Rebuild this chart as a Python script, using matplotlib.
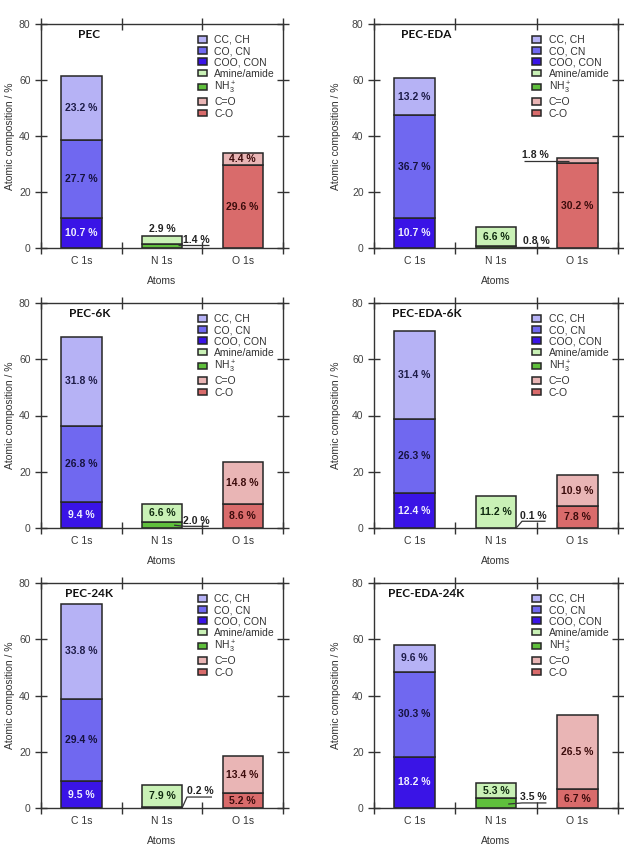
import matplotlib.pyplot as plt

# Data (bottom -> top segment in each bar)
atoms = ["C 1s", "N 1s", "O 1s"]
panels = ["PEC", "PEC-EDA", "PEC-6K", "PEC-EDA-6K", "PEC-24K", "PEC-EDA-24K"]

c_coo = [10.7, 10.7, 9.4, 12.4, 9.5, 18.2]
c_co = [27.7, 36.7, 26.8, 26.3, 29.4, 30.3]
c_cc = [23.2, 13.2, 31.8, 31.4, 33.8, 9.6]
n_nh3 = [1.4, 0.8, 2.0, 0.1, 0.2, 3.5]
n_amine = [2.9, 6.6, 6.6, 11.2, 7.9, 5.3]
o_c_o = [29.6, 30.2, 8.6, 7.8, 5.2, 6.7]
o_c_dbl = [4.4, 1.8, 14.8, 10.9, 13.4, 26.5]

# name, values, atom index, bar colour, text colour
series = [
    ("COO, CON", c_coo, 0, "#3a14e6", "#f0f0ff"),
    ("CO, CN", c_co, 0, "#7068f0", "#16123e"),
    ("CC, CH", c_cc, 0, "#b6b2f5", "#1e1c48"),
    ("NH$_3^+$", n_nh3, 1, "#5fbf3c", "#102a10"),
    ("Amine/amide", n_amine, 1, "#c9f1b6", "#102a10"),
    ("C-O", o_c_o, 2, "#d96b6b", "#3c0c0c"),
    ("C=O", o_c_dbl, 2, "#e9b5b5", "#3c0c0c"),
]
legend_order = ["CC, CH", "CO, CN", "COO, CON", "Amine/amide", "NH$_3^+$", "C=O", "C-O"]

# labels drawn outside the bar: series -> (text x, text bottom y, leader xs, leader ys)
callouts = {
    0: {"Amine/amide": (1.0, 4.9, None, None),
        "NH$_3^+$": (1.43, 1.2, [1.2, 1.58], [0.9, 0.9])},
    1: {"NH$_3^+$": (1.5, 0.7, [1.2, 1.65], [0.45, 0.45]),
        "C=O": (1.49, 31.3, [1.35, 1.9], [31.1, 31.1])},
    2: {"NH$_3^+$": (1.43, 0.8, [1.15, 1.28, 1.58], [1.0, 0.6, 0.6])},
    3: {"NH$_3^+$": (1.46, 2.5, [1.25, 1.32, 1.61], [0.05, 2.4, 2.4])},
    4: {"NH$_3^+$": (1.47, 4.1, [1.25, 1.31, 1.62], [0.1, 3.9, 3.9])},
    5: {"NH$_3^+$": (1.46, 2.0, [1.15, 1.32, 1.62], [1.4, 1.8, 1.8])},
}

plt.rcParams["font.family"] = ["Liberation Sans", "DejaVu Sans"]
plt.rcParams["mathtext.fontset"] = "custom"
plt.rcParams["mathtext.rm"] = "Liberation Sans"
plt.rcParams["mathtext.it"] = "Liberation Sans"

fig = plt.figure(figsize=(6.24, 8.56), dpi=100)

lefts = [41 / 624, 374 / 624]
widths = [242 / 624, 244 / 624]
tops = [24, 303, 583]
bottoms = [248, 528, 808]

for p, name in enumerate(panels):
    row, col = divmod(p, 2)
    ax = fig.add_axes([lefts[col], 1 - bottoms[row] / 856, widths[col],
                       (bottoms[row] - tops[row]) / 856])

    base = [0.0, 0.0, 0.0]
    handles = {}
    for label, vals, xi, color, tcolor in series:
        v = vals[p]
        b = ax.bar(xi, v, bottom=base[xi], width=0.5, color=color,
                   edgecolor="#262626", linewidth=1.1, label=label, zorder=2)
        handles[label] = b
        txt = f"{v:.1f} %"
        co = callouts.get(p, {}).get(label)
        if co is None:
            ax.text(xi, base[xi] + v / 2, txt, ha="center", va="center",
                    fontsize=7.5, fontweight="bold", color=tcolor, zorder=3)
        else:
            tx, ty, lx, ly = co
            ax.text(tx, ty, txt, ha="center", va="bottom", fontsize=7.5,
                    fontweight="bold", color="#222222", zorder=3)
            if lx is not None:
                ax.plot(lx, ly, color="#333333", lw=0.9, zorder=4,
                        solid_capstyle="butt")
        base[xi] += v

    ax.set_xlim(-0.5, 2.5)
    ax.set_ylim(0, 80)
    ax.set_yticks([0, 20, 40, 60, 80])
    ax.set_xticks([-0.5, 0.5, 1.5, 2.5])
    ax.set_xticklabels([])
    ax.set_xticks([0, 1, 2], minor=True)
    ax.set_xticklabels(atoms, minor=True)
    ax.tick_params(which="major", direction="inout", length=8, width=1,
                   top=True, right=True, colors="#333333", labelsize=7.5,
                   labelcolor="#444444")
    ax.tick_params(axis="x", which="minor", length=0, pad=6,
                   labelsize=7.5, labelcolor="#333333")
    for s in ax.spines.values():
        s.set_color("#333333")
        s.set_linewidth(1.0)

    ax.set_xlabel("Atoms", fontsize=7.5, color="#333333", labelpad=7)
    ax.set_ylabel("Atomic composition / %", fontsize=7.5, color="#333333",
                  labelpad=3 if col == 0 else 8)

    ax.text(0.2 if col == 0 else 0.215, 0.955, name, transform=ax.transAxes,
            ha="center", va="center", fontsize=8.5, fontweight="bold",
            family="Lato", color="#111111")

    ax.legend([handles[k] for k in legend_order], legend_order,
              loc="upper left", bbox_to_anchor=(0.63, 0.97), frameon=False,
              fontsize=7.5, handlelength=0.9, handleheight=0.6,
              handletextpad=0.7, labelspacing=0.12, borderaxespad=0,
              labelcolor="#333333")

plt.savefig("out.png", dpi=100)
